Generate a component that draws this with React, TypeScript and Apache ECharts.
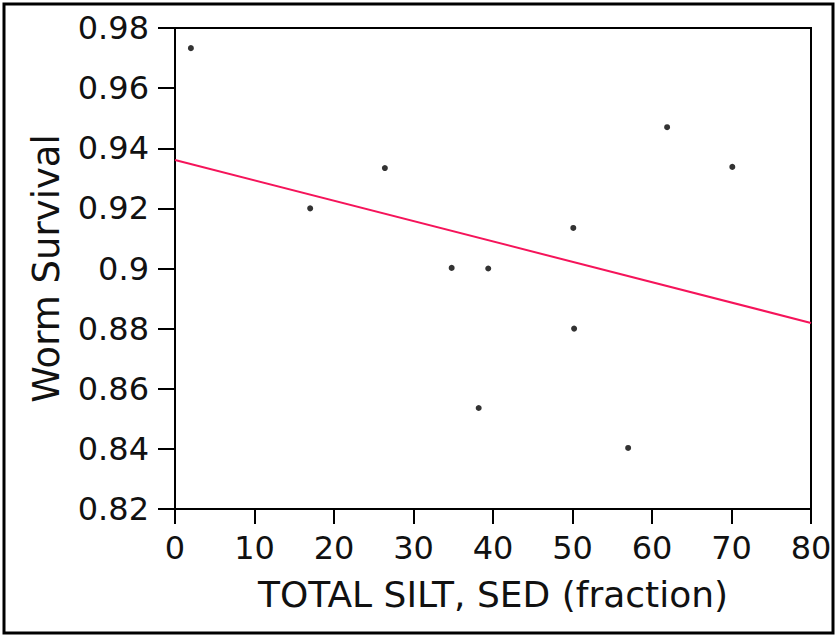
import React, { useEffect, useRef } from "react";
import * as echarts from "echarts";

const silt: number[] = [2.0, 17.0, 26.4, 34.8, 39.4, 38.2, 50.1, 50.2, 57.0, 61.9, 70.1];
const survival: number[] = [0.9733, 0.92, 0.9334, 0.9002, 0.9, 0.8536, 0.9135, 0.88, 0.8403, 0.947, 0.9338];
const fitX: number[] = [0, 80];
const fitY: number[] = [0.9361, 0.8819];
const xTitle = "TOTAL SILT, SED (fraction)";
const yTitle = "Worm Survival";

export default function App() {
  const ref = useRef<HTMLDivElement>(null);
  useEffect(() => {
    if (!ref.current) return;
    const chart = echarts.init(ref.current, null, { renderer: "svg" });
    const font = "DejaVu Sans";
    chart.setOption({
      animation: false,
      backgroundColor: "#ffffff",
      grid: { left: 175, top: 28, width: 636, height: 481, containLabel: false, show: true, borderColor: "#000", borderWidth: 2, backgroundColor: "transparent" },
      xAxis: {
        type: "value",
        min: 0,
        max: 80,
        interval: 10,
        name: xTitle,
        nameLocation: "middle",
        nameGap: 67,
        nameTextStyle: { fontFamily: font, fontSize: 36, color: "#111" },
        axisLine: { show: true, lineStyle: { color: "#000", width: 2 } },
        axisTick: { show: true, inside: false, length: 15, lineStyle: { color: "#000", width: 2 } },
        axisLabel: { fontFamily: font, fontSize: 32, color: "#111", margin: 23 },
        splitLine: { show: false },
      },
      yAxis: {
        type: "value",
        min: 0.82,
        max: 0.98,
        interval: 0.02,
        name: yTitle,
        nameLocation: "middle",
        nameGap: 110,
        nameTextStyle: { fontFamily: font, fontSize: 37, color: "#111" },
        axisLine: { show: true, lineStyle: { color: "#000", width: 2 } },
        axisTick: { show: true, inside: false, length: 17, lineStyle: { color: "#000", width: 2 } },
        axisLabel: { fontFamily: font, fontSize: 32, color: "#111", margin: 26 },
        splitLine: { show: false },
      },
      graphic: [
        {
          type: "rect",
          shape: { x: 4, y: 4, width: 829, height: 629 },
          style: { fill: "none", stroke: "#000", lineWidth: 3 },
          silent: true,
        },
      ],
      series: [
        {
          type: "line",
          data: fitX.map((x, i) => [x, fitY[i]]),
          showSymbol: false,
          symbol: "none",
          lineStyle: { color: "#f5145a", width: 2 },
          z: 2,
        },
        {
          type: "scatter",
          data: silt.map((x, i) => [x, survival[i]]),
          symbol: "circle",
          symbolSize: 6,
          itemStyle: { color: "#000" },
          z: 3,
        },
      ],
    });
    return () => chart.dispose();
  }, []);
  return <div ref={ref} style={{ position: "fixed", left: 0, top: 0, width: 839, height: 637 }} />;
}
